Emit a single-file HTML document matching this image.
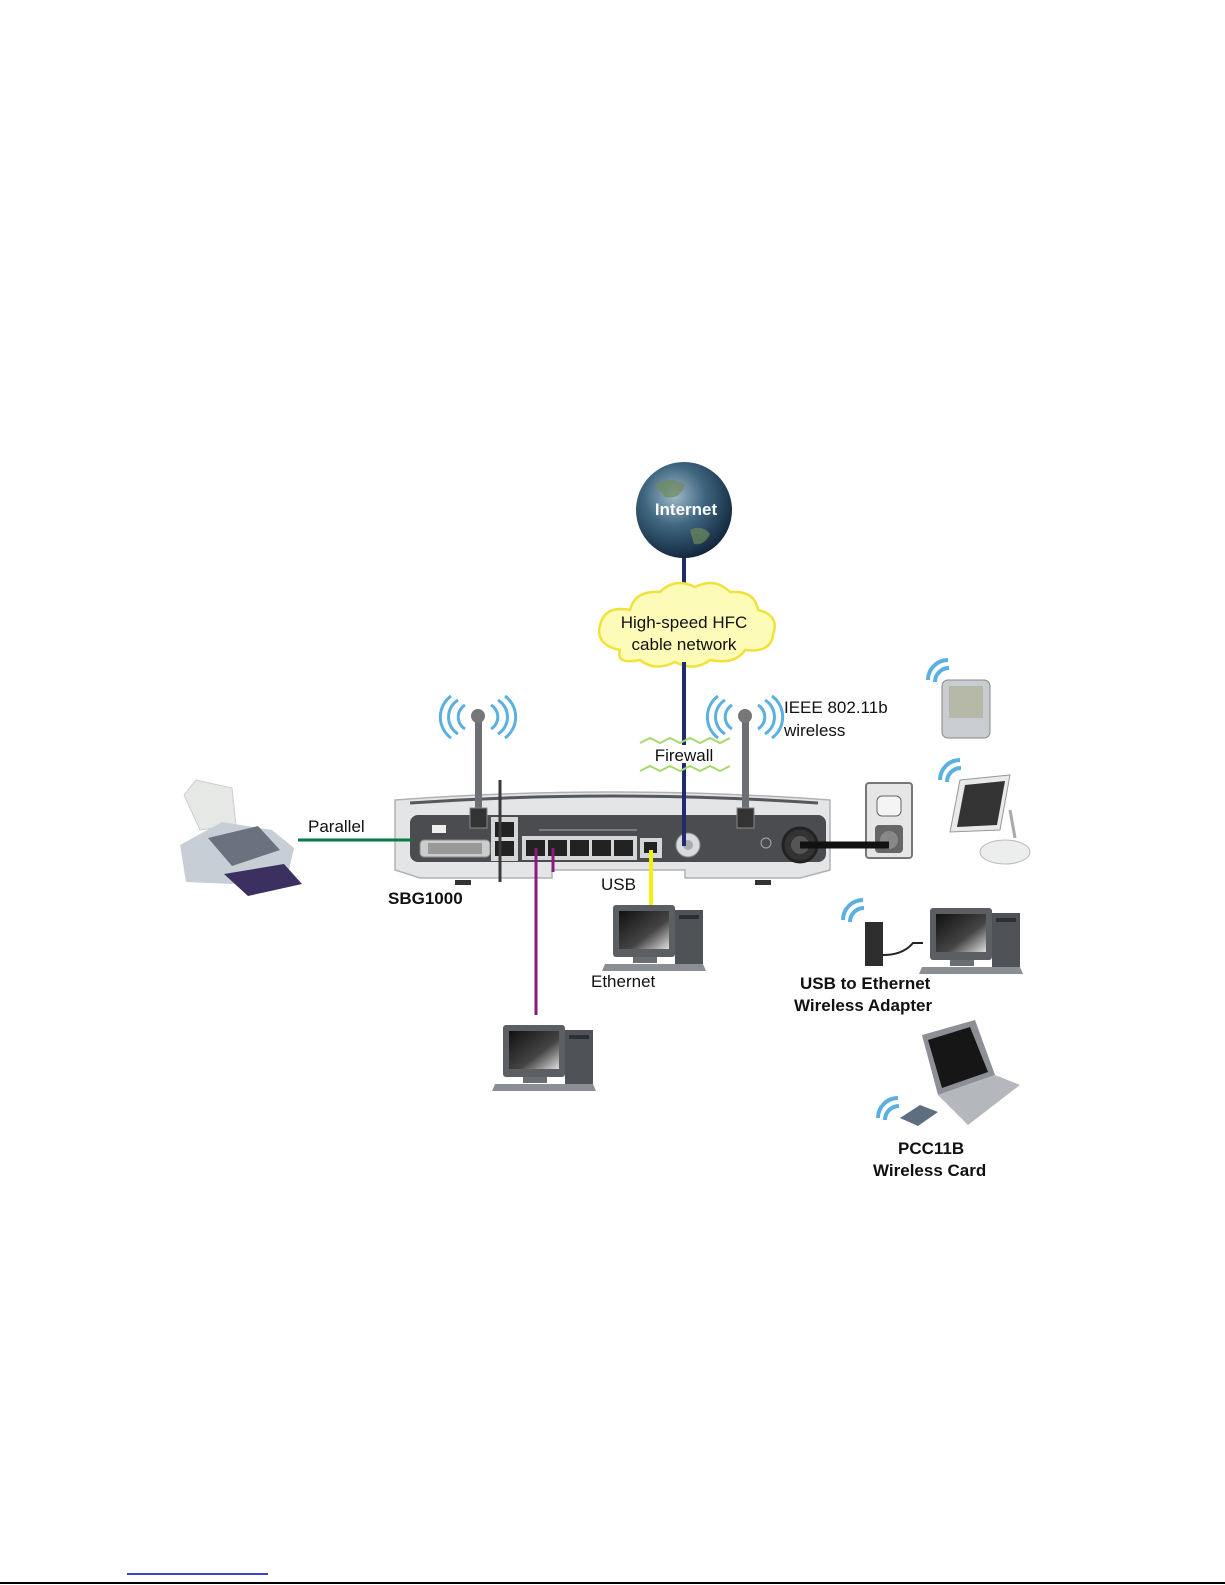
<!DOCTYPE html>
<html><head><meta charset="utf-8"><style>
html,body{margin:0;padding:0;background:#fff;}
svg{display:block;}
text{font-family:"Liberation Sans",Arial,sans-serif;}
</style></head><body>
<svg width="1225" height="1585" viewBox="0 0 1225 1585" xmlns="http://www.w3.org/2000/svg">
<defs>
<radialGradient id="globe" cx="0.4" cy="0.35" r="0.7">
<stop offset="0" stop-color="#9fb8c8"/><stop offset="0.45" stop-color="#3f6680"/><stop offset="1" stop-color="#0e2236"/>
</radialGradient>
<linearGradient id="scr" x1="0" y1="0" x2="1" y2="1"><stop offset="0" stop-color="#111"/><stop offset="0.6" stop-color="#444"/><stop offset="1" stop-color="#ddd"/></linearGradient>
<g id="pc">
<rect x="0" y="0" width="62" height="52" rx="3" fill="#5b5f64"/>
<rect x="6" y="6" width="50" height="38" fill="url(#scr)"/>
<rect x="62" y="5" width="28" height="55" fill="#4f5358"/>
<rect x="66" y="10" width="20" height="4" fill="#2d3033"/>
<rect x="20" y="52" width="24" height="6" fill="#6a6e73"/>
<polygon points="-8,59 90,59 93,66 -11,66" fill="#8a8f96"/>
</g>
<g id="wave">
<path d="M0,20 A20,20 0 0 1 20,0" stroke="#5ab0e0" stroke-width="4" fill="none"/>
<path d="M7,22 A14,14 0 0 1 21,8" stroke="#5ab0e0" stroke-width="4" fill="none"/>
</g>
</defs>

<line x1="684" y1="555" x2="684" y2="845" stroke="#222a6e" stroke-width="4"/>
<circle cx="684" cy="510" r="48" fill="url(#globe)"/>
<path d="M655,485 q15,-10 30,0 q-5,15 -20,12 z M690,530 q12,-6 20,4 q-6,12 -16,10 z" fill="#6f8a5a" opacity="0.7"/>
<text x="686" y="515" font-size="17" font-weight="bold" fill="#fff" text-anchor="middle">Internet</text>

<path d="M620,650 q-25,-5 -20,-25 q5,-20 30,-15 q5,-20 30,-18 q15,-15 35,-5 q20,-10 35,5 q25,-2 28,18 q22,5 15,25 q-2,18 -28,15 q-10,15 -35,10 q-15,12 -35,2 q-20,10 -35,-2 q-25,5 -20,-10 z" fill="#fdfbb8" stroke="#f0e23a" stroke-width="2.5"/>
<line x1="684" y1="662" x2="684" y2="845" stroke="#222a6e" stroke-width="4"/>
<text x="684" y="628" font-size="17" fill="#111" text-anchor="middle">High-speed HFC</text>
<text x="684" y="650" font-size="17" fill="#111" text-anchor="middle">cable network</text>

<polyline points="640,743 650,738 660,743 670,738 680,743 690,738 700,743 710,738 720,743 730,738" stroke="#a8d870" stroke-width="2" fill="none"/>
<polyline points="640,771 650,766 660,771 670,766 680,771 690,766 700,771 710,766 720,771 730,766" stroke="#a8d870" stroke-width="2" fill="none"/>
<rect x="650" y="745" width="68" height="18" fill="#fff"/>
<text x="684" y="761" font-size="17" fill="#111" text-anchor="middle">Firewall</text>

<text x="784" y="713" font-size="17" fill="#111">IEEE 802.11b</text>
<text x="784" y="736" font-size="17" fill="#111">wireless</text>

<g stroke="#5ab0e0" stroke-width="3" fill="none">
<path d="M465,705 a14,14 0 0 0 0,24"/><path d="M458,700 a20,20 0 0 0 0,34"/><path d="M451,696 a26,26 0 0 0 0,42"/>
<path d="M491,705 a14,14 0 0 1 0,24"/><path d="M498,700 a20,20 0 0 1 0,34"/><path d="M505,696 a26,26 0 0 1 0,42"/>
<path d="M732,705 a14,14 0 0 0 0,24"/><path d="M725,700 a20,20 0 0 0 0,34"/><path d="M718,696 a26,26 0 0 0 0,42"/>
<path d="M758,705 a14,14 0 0 1 0,24"/><path d="M765,700 a20,20 0 0 1 0,34"/><path d="M772,696 a26,26 0 0 1 0,42"/>
</g>

<path d="M395,800 Q612,784 830,800 L830,870 L800,878 L685,878 L685,870 L552,870 L552,878 L420,878 L395,870 Z" fill="#e4e5e7" stroke="#b0b2b6" stroke-width="1.5"/>
<path d="M410,803 Q612,789 818,803" stroke="#55585c" stroke-width="3" fill="none"/>
<rect x="410" y="815" width="416" height="47" rx="8" fill="#4a4c50"/>
<rect x="455" y="880" width="16" height="5" fill="#333"/><rect x="755" y="880" width="16" height="5" fill="#333"/>
<rect x="475" y="718" width="7" height="100" fill="#6c6f73"/>
<circle cx="478" cy="716" r="7" fill="#777"/>
<rect x="470" y="808" width="17" height="20" fill="#333" stroke="#888"/>
<rect x="742" y="718" width="7" height="100" fill="#6c6f73"/>
<circle cx="745" cy="716" r="7" fill="#777"/>
<rect x="737" y="808" width="17" height="20" fill="#333" stroke="#888"/>
<rect x="420" y="840" width="70" height="17" rx="4" fill="#ccc" stroke="#888"/>
<rect x="428" y="843" width="54" height="11" fill="#999"/>
<rect x="432" y="825" width="14" height="8" fill="#eee"/>
<rect x="491" y="817" width="27" height="44" fill="#d5d6d8"/>
<rect x="495" y="822" width="19" height="15" fill="#222"/><rect x="495" y="841" width="19" height="15" fill="#222"/>
<line x1="500" y1="780" x2="500" y2="882" stroke="#3a3a3a" stroke-width="3"/>
<rect x="522" y="836" width="115" height="24" fill="#d5d6d8"/>
<g fill="#222"><rect x="526" y="840" width="19" height="16"/><rect x="548" y="840" width="19" height="16"/><rect x="570" y="840" width="19" height="16"/><rect x="592" y="840" width="19" height="16"/><rect x="614" y="840" width="19" height="16"/></g>
<path d="M539,830 h98" stroke="#aaa" stroke-width="1"/>
<rect x="640" y="838" width="22" height="20" fill="#d5d6d8"/><rect x="644" y="842" width="13" height="11" fill="#222"/>
<circle cx="688" cy="845" r="12" fill="#d9dadd" stroke="#888"/><circle cx="688" cy="845" r="5" fill="#aaa"/>
<line x1="684" y1="780" x2="684" y2="846" stroke="#222a6e" stroke-width="4"/>
<circle cx="800" cy="845" r="17" fill="#333" stroke="#222" stroke-width="3"/><circle cx="800" cy="845" r="9" fill="#555"/>
<circle cx="766" cy="843" r="5" fill="none" stroke="#aaa"/>
<rect x="866" y="783" width="46" height="75" rx="3" fill="#e6e6e6" stroke="#777" stroke-width="2"/>
<rect x="877" y="796" width="24" height="20" rx="5" fill="#f4f4f4" stroke="#666"/>
<rect x="875" y="825" width="28" height="28" rx="4" fill="#666"/>
<circle cx="889" cy="840" r="9" fill="#888"/>
<line x1="800" y1="845" x2="889" y2="845" stroke="#111" stroke-width="7"/>

<line x1="298" y1="840" x2="412" y2="840" stroke="#0a7a44" stroke-width="3"/>
<text x="308" y="832" font-size="17" fill="#111">Parallel</text>
<text x="388" y="904" font-size="17" font-weight="bold" fill="#111">SBG1000</text>
<line x1="536" y1="848" x2="536" y2="1015" stroke="#8c1a7c" stroke-width="3"/>
<line x1="553" y1="848" x2="553" y2="872" stroke="#8c1a7c" stroke-width="3"/>
<line x1="651" y1="850" x2="651" y2="905" stroke="#f4ef10" stroke-width="4"/>
<text x="601" y="890" font-size="17" fill="#111">USB</text>

<!-- printer -->
<polygon points="184,795 196,780 232,788 236,825 200,830" fill="#e6e8e6" stroke="#ccc"/>
<polygon points="180,845 222,822 272,830 294,848 288,874 232,884 186,882" fill="#c7ced6"/>
<polygon points="208,838 258,826 280,850 232,866" fill="#6a7280"/>
<polygon points="224,874 284,864 302,884 248,896" fill="#3b3060"/>

<use href="#pc" x="613" y="905"/>
<text x="591" y="987" font-size="17" fill="#111">Ethernet</text>
<use href="#pc" x="503" y="1025"/>

<use href="#wave" x="928" y="660"/>
<rect x="942" y="680" width="48" height="58" rx="6" fill="#c9ccd0" stroke="#888"/>
<rect x="949" y="686" width="34" height="32" fill="#b7b9a8"/>
<use href="#wave" x="940" y="760"/>
<polygon points="960,780 1010,775 1000,830 950,832" fill="#e8e9ea" stroke="#999"/>
<polygon points="965,785 1005,781 997,825 957,827" fill="#333"/>
<line x1="1010" y1="810" x2="1015" y2="838" stroke="#aaa" stroke-width="3"/>
<ellipse cx="1005" cy="852" rx="25" ry="12" fill="#eceded" stroke="#bbb"/>
<use href="#wave" x="843" y="900"/>
<rect x="865" y="922" width="18" height="44" fill="#2e2e2e"/>
<path d="M883,955 q20,0 30,-12 h10" stroke="#222" stroke-width="2" fill="none"/>
<use href="#pc" x="930" y="908"/>
<text x="800" y="989" font-size="17" font-weight="bold" fill="#111">USB to Ethernet</text>
<text x="794" y="1011" font-size="17" font-weight="bold" fill="#111">Wireless Adapter</text>
<polygon points="922,1035 975,1020 995,1075 938,1095" fill="#8c8f95"/>
<polygon points="928,1040 970,1027 988,1072 942,1088" fill="#161616"/>
<polygon points="938,1095 995,1075 1020,1085 968,1125" fill="#b4b7bc"/>
<use href="#wave" x="878" y="1098"/>
<polygon points="900,1118 920,1105 938,1112 918,1126" fill="#5c6e80"/>
<text x="898" y="1154" font-size="17" font-weight="bold" fill="#111">PCC11B</text>
<text x="873" y="1176" font-size="17" font-weight="bold" fill="#111">Wireless Card</text>

<line x1="127" y1="1574" x2="268" y2="1574" stroke="#0000cc" stroke-width="1.5"/>
<line x1="0" y1="1583" x2="1225" y2="1583" stroke="#000" stroke-width="2"/>
</svg>
</body></html>
